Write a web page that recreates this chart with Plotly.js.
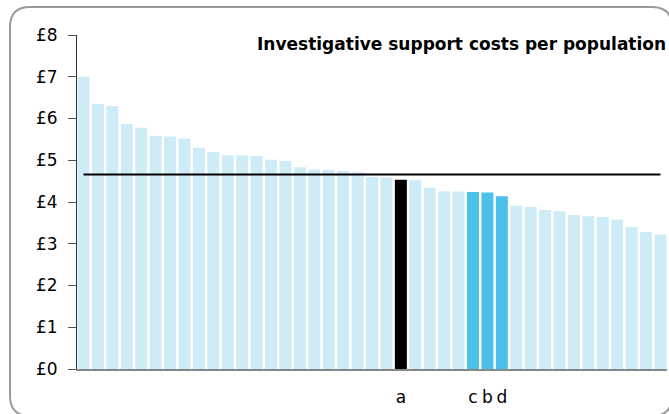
<!DOCTYPE html>
<html>
<head>
<meta charset="utf-8">
<script src="https://cdn.plot.ly/plotly-3.0.1.min.js"></script>
<style>html,body{margin:0;padding:0;background:#fff;}#chart{width:669px;height:414px;}</style>
</head>
<body>
<div id="chart"></div>
<script>
// Values (sorted, £ per population)
var costs = [7.00, 6.35, 6.30, 5.87, 5.78, 5.58, 5.57, 5.52, 5.30, 5.20,
             5.12, 5.12, 5.10, 5.01, 4.98, 4.83, 4.78, 4.77, 4.74, 4.71,
             4.60, 4.59, 4.53, 4.52, 4.34, 4.26, 4.25, 4.24, 4.23, 4.14,
             3.91, 3.88, 3.81, 3.78, 3.69, 3.66, 3.64, 3.58, 3.40, 3.28, 3.22];
var barLabels = {22: 'a', 27: 'c', 28: 'b', 29: 'd'};
var highlightA = [22];
var highlightGroup = [27, 28, 29];
var averageCost = 4.66;
var yTickVals = [0, 1, 2, 3, 4, 5, 6, 7, 8];
var yTickText = ['£0', '£1', '£2', '£3', '£4', '£5', '£6', '£7', '£8'];
var chartTitle = 'Investigative support costs per population';

var idx = costs.map(function (_, i) { return i; });
var colors = idx.map(function (i) {
  if (highlightA.indexOf(i) >= 0) return '#000000';
  if (highlightGroup.indexOf(i) >= 0) return '#4BC1EA';
  return '#CDECF8';
});
var tickVals = Object.keys(barLabels).map(Number);
var tickText = tickVals.map(function (k) { return barLabels[k]; });

var W = 669, H = 414, ml = 77, mr = 2, mt = 35, mb = 45;
var pw = W - ml - mr, ph = H - mt - mb;
function px(x) { return (x - ml) / pw; }
function py(y) { return (H - mb - y) / ph; }
// rounded frame
var L = 10, T = 7, R = 672, B = 416, r = 20;
var framePath = 'M ' + px(L + r) + ',' + py(T) +
  ' L ' + px(R - r) + ',' + py(T) +
  ' Q ' + px(R) + ',' + py(T) + ' ' + px(R) + ',' + py(T + r) +
  ' L ' + px(R) + ',' + py(B - r) +
  ' Q ' + px(R) + ',' + py(B) + ' ' + px(R - r) + ',' + py(B) +
  ' L ' + px(L + r) + ',' + py(B) +
  ' Q ' + px(L) + ',' + py(B) + ' ' + px(L) + ',' + py(B - r) +
  ' L ' + px(L) + ',' + py(T + r) +
  ' Q ' + px(L) + ',' + py(T) + ' ' + px(L + r) + ',' + py(T) + ' Z';

var FONT = 'DejaVu Sans, Liberation Sans, Arial, sans-serif';

var traces = [
  {
    type: 'bar', x: idx, y: costs,
    marker: { color: colors, line: { width: 0 } },
    hoverinfo: 'y', showlegend: false
  },
  {
    type: 'scatter', mode: 'lines',
    x: [idx[0], idx[idx.length - 1]], y: [averageCost, averageCost],
    line: { color: '#000000', width: 2 },
    hoverinfo: 'skip', showlegend: false
  }
];

var layout = {
  width: W, height: H,
  margin: { l: ml, r: mr, t: mt, b: mb, pad: 0 },
  paper_bgcolor: '#ffffff', plot_bgcolor: '#ffffff',
  bargap: 0.17,
  font: { family: FONT, size: 17, color: '#000' },
  title: {
    text: '<b>' + chartTitle + '</b>',
    font: { family: FONT, size: 17, color: '#000' },
    x: 0.9985, xanchor: 'right', xref: 'paper',
    y: 0.894, yref: 'container', yanchor: 'middle'
  },
  xaxis: {
    range: [-0.45, 40.45],
    tickmode: 'array', tickvals: tickVals, ticktext: tickText,
    ticks: '', showgrid: false, zeroline: false,
    showline: true, linecolor: '#888888', linewidth: 2,
    ticklabelstandoff: 12,
    tickfont: { family: FONT, size: 17, color: '#000' }
  },
  yaxis: {
    range: [0, 8],
    tickmode: 'array', tickvals: yTickVals, ticktext: yTickText,
    ticks: 'outside', ticklen: 8, tickcolor: '#555555', tickwidth: 1,
    showgrid: false, zeroline: false,
    showline: true, linecolor: '#333333', linewidth: 1,
    ticklabelstandoff: 7,
    tickfont: { family: FONT, size: 17, color: '#000' }
  },
  shapes: [{
    type: 'path', xref: 'paper', yref: 'paper', path: framePath,
    line: { color: '#9a9a9a', width: 2 }, fillcolor: 'rgba(0,0,0,0)', layer: 'above'
  }]
};

Plotly.newPlot('chart', traces, layout, { staticPlot: true, displayModeBar: false });
</script>
</body>
</html>
